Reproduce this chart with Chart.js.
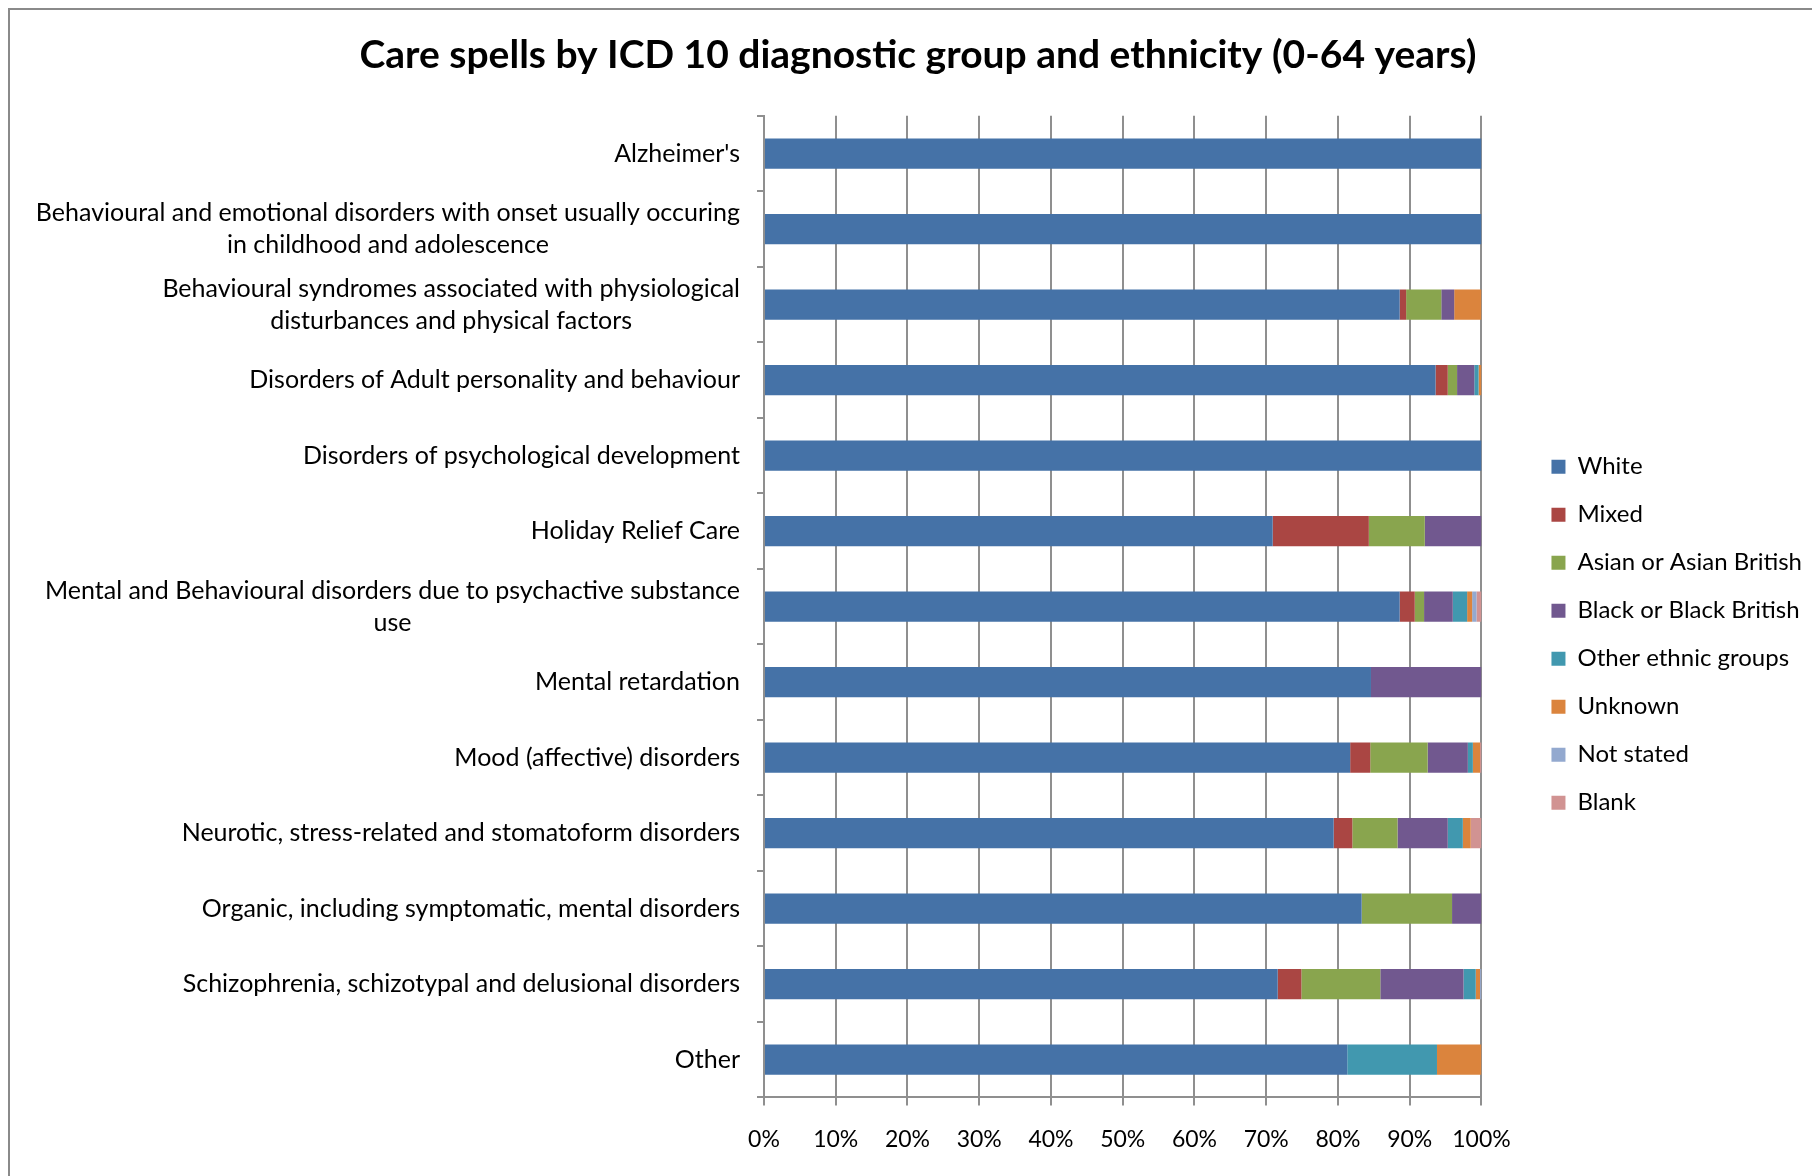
<!DOCTYPE html>
<html>
<head>
<meta charset="utf-8">
<title>Care spells by ICD 10 diagnostic group and ethnicity</title>
<script src="https://cdn.jsdelivr.net/npm/chart.js@4/dist/chart.umd.min.js"></script>
<style>
  html, body { margin: 0; padding: 0; background: #fff; overflow: hidden; }
  #wrap { position: relative; width: 1812px; height: 1176px; }
  #frame { position: absolute; left: 8px; top: 8px; width: 2000px; height: 2000px;
           border: 2px solid #8a8a8a; pointer-events: none; }
  canvas { position: absolute; left: 0; top: 0; }
</style>
</head>
<body>
<div id="wrap">
  <canvas id="careChart"></canvas>
  <div id="frame"></div>
</div>
<script>
// Categories (top to bottom), multi-line labels as arrays
const categories = [
  ["Alzheimer's"],
  ['Behavioural and emotional disorders with onset usually occuring', 'in childhood and adolescence'],
  ['Behavioural syndromes associated with physiological', 'disturbances and physical factors'],
  ['Disorders of Adult personality and behaviour'],
  ['Disorders of psychological development'],
  ['Holiday Relief Care'],
  ['Mental and Behavioural disorders due to psychactive substance', 'use'],
  ['Mental retardation'],
  ['Mood (affective) disorders'],
  ['Neurotic, stress-related and stomatoform disorders'],
  ['Organic, including symptomatic, mental disorders'],
  ['Schizophrenia, schizotypal and delusional disorders'],
  ['Other']
];

// Percent share of care spells per ethnic group
const white      = [100, 100, 88.6, 93.6, 100, 70.9, 88.6, 84.6, 81.7, 79.4, 83.3, 71.6, 81.3];
const mixed      = [0, 0, 0.9, 1.7, 0, 13.4, 2.1, 0, 2.8, 2.6, 0, 3.3, 0];
const asian      = [0, 0, 4.9, 1.3, 0, 7.8, 1.3, 0, 8.0, 6.3, 12.6, 11.0, 0];
const black      = [0, 0, 1.8, 2.4, 0, 7.9, 4.0, 15.4, 5.6, 7.0, 4.1, 11.6, 0];
const otherEth   = [0, 0, 0, 0.6, 0, 0, 2.0, 0, 0.7, 2.1, 0, 1.7, 12.5];
const unknown    = [0, 0, 3.8, 0.4, 0, 0, 0.7, 0, 1.0, 1.1, 0, 0.6, 6.2];
const notStated  = [0, 0, 0, 0, 0, 0, 0.6, 0, 0, 0, 0, 0.2, 0];
const blank      = [0, 0, 0, 0, 0, 0, 0.7, 0, 0.2, 1.5, 0, 0, 0];

const xTicks = [0, 10, 20, 30, 40, 50, 60, 70, 80, 90, 100];

const seriesNames  = ['White', 'Mixed', 'Asian or Asian British', 'Black or Black British',
                      'Other ethnic groups', 'Unknown', 'Not stated', 'Blank'];
const seriesData   = [white, mixed, asian, black, otherEth, unknown, notStated, blank];
const seriesColors = ['#4572A7', '#AA4643', '#89A54E', '#71588F',
                      '#4198AF', '#DB843D', '#93A9CF', '#D19392'];

const gridGrey = '#8f8f8f';

// draws the category labels: block right-aligned, lines centred inside the block
const categoryLabels = {
  id: 'categoryLabels',
  afterDraw(chart) {
    const scale = chart.scales.y;
    const ctx = chart.ctx;
    const right = scale.right - 24;
    const lineH = 32;
    ctx.save();
    ctx.font = '25px Lato';
    ctx.fillStyle = '#000';
    ctx.textBaseline = 'middle';
    ctx.textAlign = 'center';
    categories.forEach((lines, i) => {
      const y = scale.getPixelForTick(i);
      const w = Math.max(...lines.map(l => ctx.measureText(l).width));
      const cx = right - w / 2;
      lines.forEach((line, j) => {
        ctx.fillText(line, cx, y + (j - (lines.length - 1) / 2) * lineH);
      });
    });
    ctx.restore();
  }
};

Chart.defaults.font.family = 'Lato';
Chart.defaults.color = '#000';

new Chart(document.getElementById('careChart').getContext('2d'), {
  type: 'bar',
  data: {
    labels: categories.map(c => c.join(' ')),
    datasets: seriesNames.map((name, i) => ({
      label: name,
      data: seriesData[i],
      backgroundColor: seriesColors[i],
      borderWidth: 0,
      categoryPercentage: 1,
      barPercentage: 0.4
    }))
  },
  options: {
    indexAxis: 'y',
    responsive: true,
    maintainAspectRatio: false,
    animation: false,
    layout: { padding: { left: 24, right: 0, top: 0, bottom: 3 } },
    plugins: {
      title: {
        display: true,
        text: 'Care spells by ICD 10 diagnostic group and ethnicity (0-64 years)',
        color: '#000',
        font: { family: 'Lato', size: 39, weight: 'bold' },
        padding: { top: 32, bottom: 37 }
      },
      legend: {
        position: 'right',
        align: 'center',
        title: { display: true, text: '', padding: { top: 82, bottom: 0 } },
        labels: {
          color: '#000',
          font: { family: 'Lato', size: 24 },
          boxWidth: 14,
          boxHeight: 14,
          padding: 24
        }
      },
      tooltip: { enabled: false }
    },
    scales: {
      x: {
        stacked: true,
        min: 0,
        max: 100,
        afterBuildTicks: s => { s.ticks = xTicks.map(v => ({ value: v })); },
        ticks: {
          callback: v => v + '%',
          font: { size: 23 },
          color: '#000',
          padding: 20,
          maxRotation: 0
        },
        grid: { color: gridGrey, lineWidth: 2, tickLength: 8 },
        border: { color: gridGrey, width: 2 }
      },
      y: {
        stacked: true,
        ticks: { display: false },
        grid: { offset: true, drawOnChartArea: false, drawTicks: true, tickLength: 7, color: gridGrey, lineWidth: 2 },
        border: { color: gridGrey, width: 2 },
        afterFit: s => { s.width = 740; }
      },
      gap: {
        type: 'linear',
        position: 'right',
        display: true,
        ticks: { display: false },
        grid: { display: false, drawTicks: false },
        border: { display: false },
        afterFit: s => { s.width = 46; }
      }
    }
  },
  plugins: [categoryLabels]
});
</script>
</body>
</html>
